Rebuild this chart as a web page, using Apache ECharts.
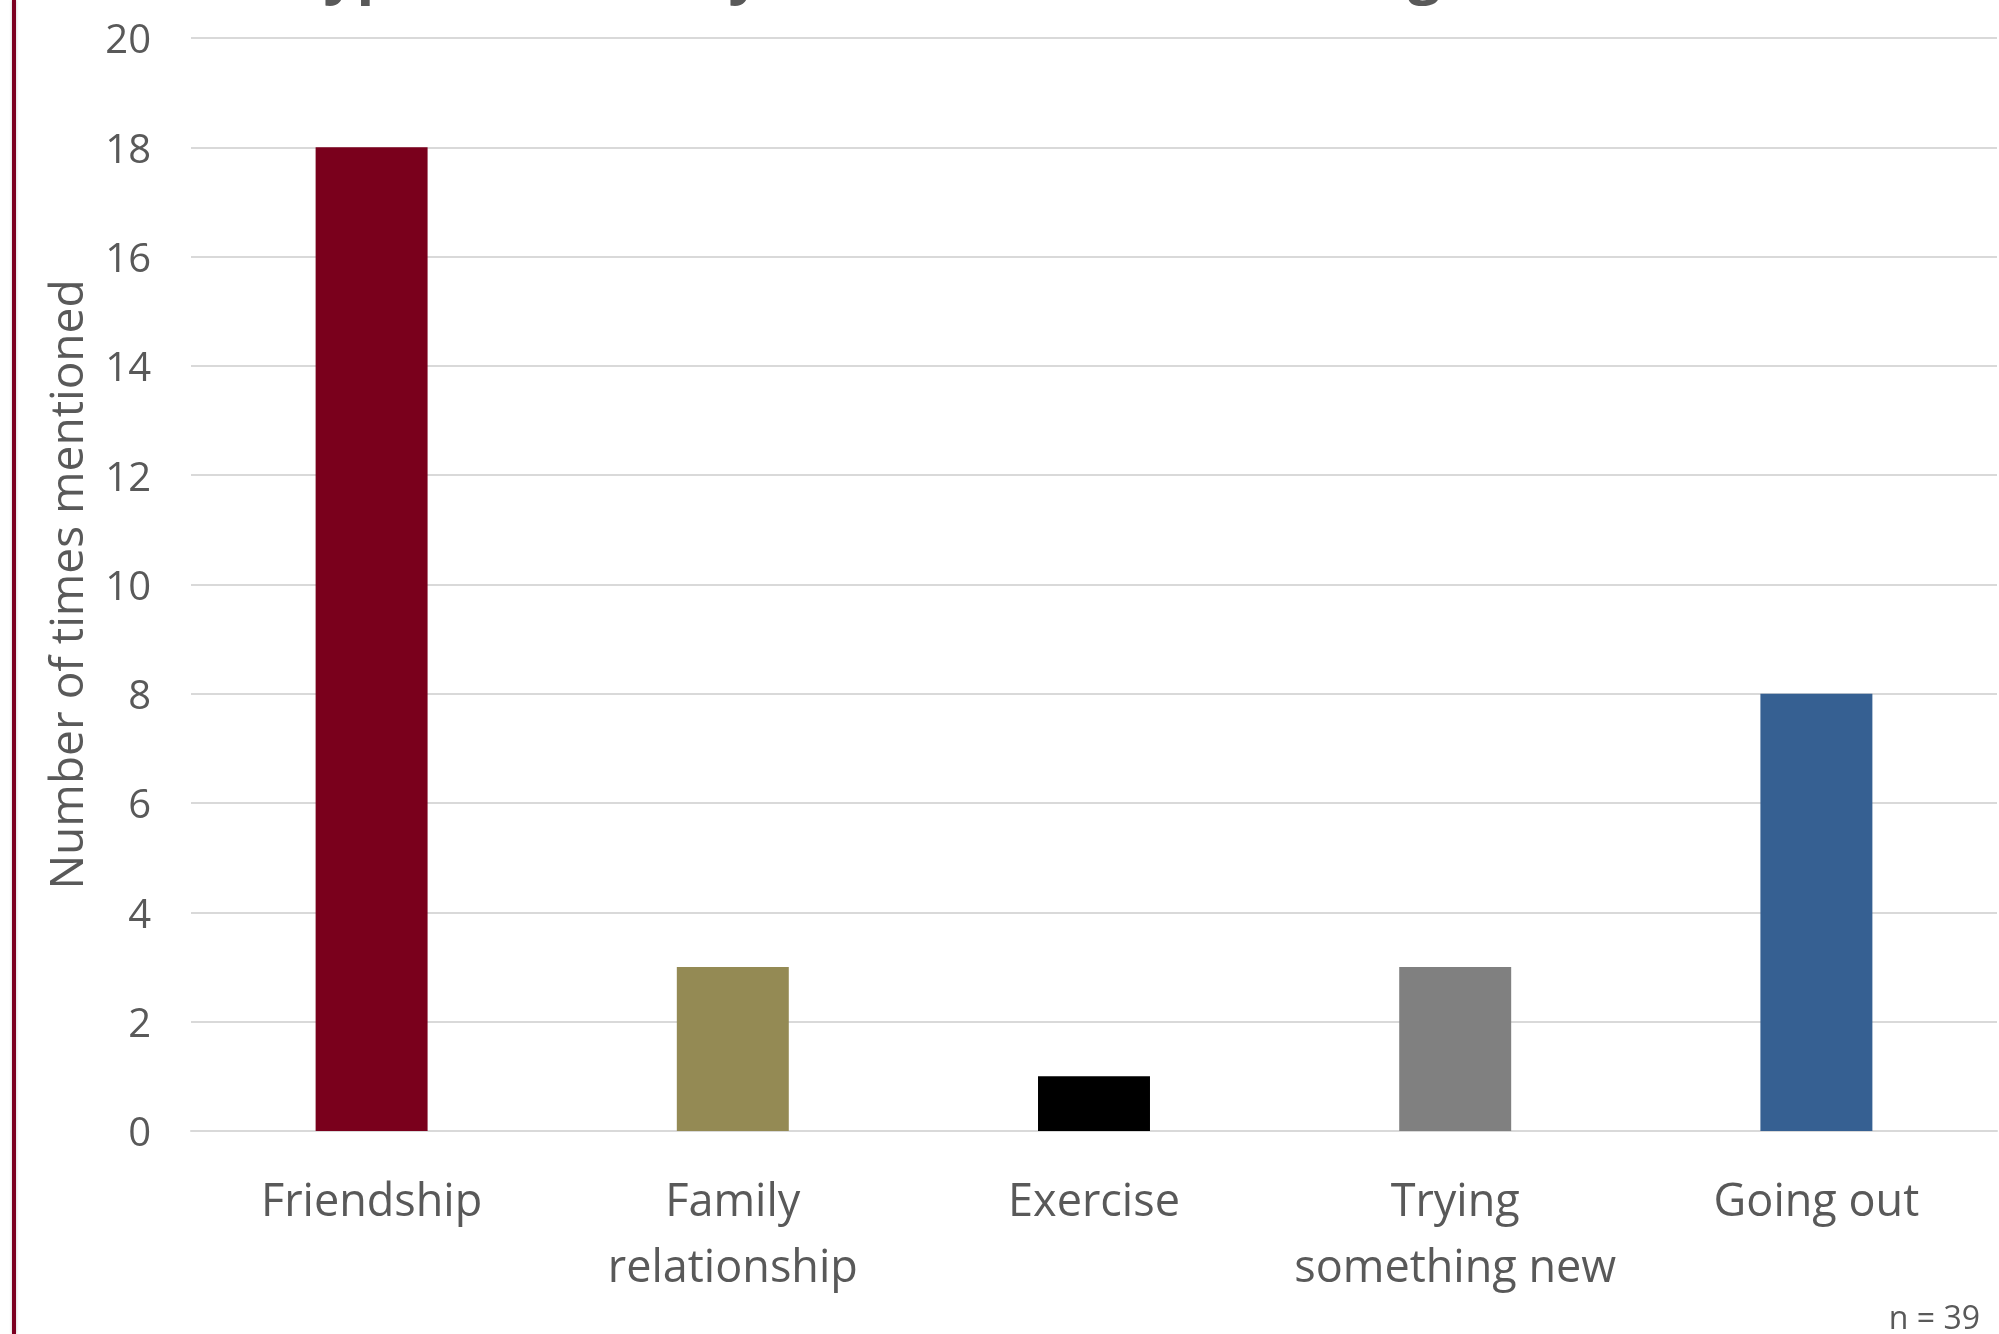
<!DOCTYPE html>
<html>
<head>
<meta charset="utf-8">
<title>Number of times mentioned</title>
<script src="https://cdn.jsdelivr.net/npm/echarts@6/dist/echarts.min.js"></script>
<style>
  html, body { margin: 0; padding: 0; background: #fff; }
  #chart { width: 1999px; height: 1334px; }
</style>
</head>
<body>
<div id="chart"></div>
<script>
const categories = ["Friendship", "Family\nrelationship", "Exercise", "Trying\nsomething new", "Going out"];
const values = [18, 3, 1, 3, 8];
const barColors = ["#7A001C", "#948A54", "#000000", "#808080", "#366092"];
const titleText = "Types of activity mentioned as meaningful";
const yName = "Number of times mentioned";
const note = "n = 39";

const textColor = "#595959";
const font = "'Open Sans', 'Noto Sans', sans-serif";

const chart = echarts.init(document.getElementById("chart"));

const option = {
  backgroundColor: "#fff",
  animation: false,
  grid: {
    left: 191,
    right: 2,
    top: 38,
    bottom: 203,
  },
  xAxis: {
    type: "category",
    data: categories,
    axisLine: { show: true, lineStyle: { color: "#D9D9D9", width: 2 } },
    axisTick: { show: false },
    axisLabel: {
      color: textColor,
      fontFamily: font,
      fontSize: 45,
      lineHeight: 66,
      margin: 39,
      verticalAlign: "top",
      interval: 0,
    },
  },
  yAxis: {
    type: "value",
    min: 0,
    max: 20,
    interval: 2,
    name: yName,
    nameLocation: "middle",
    nameRotate: 90,
    nameGap: 98,
    nameTextStyle: { color: textColor, fontFamily: font, fontSize: 46 },
    axisLine: { show: false },
    axisTick: { show: false },
    // nudge the digits down so they sit centred on the grid line
    axisLabel: { color: textColor, fontFamily: font, fontSize: 40, margin: 40, verticalAlign: "top", lineHeight: 8 },
    splitLine: { lineStyle: { color: "#D9D9D9", width: 2 } },
  },
  series: [
    {
      type: "bar",
      barWidth: "31%",
      data: values.map((v, i) => ({ value: v, itemStyle: { color: barColors[i] } })),
    },
  ],
  graphic: [
    {
      type: "rect",
      left: 12,
      top: 0,
      shape: { width: 4, height: 1334 },
      style: { fill: "#7B0020", shadowBlur: 3, shadowColor: "rgba(0,0,0,0.25)" },
    },
    {
      type: "text",
      x: 290,
      y: -25,
      style: {
        text: titleText,
        fill: textColor,
        font: "bold 58px " + font,
        verticalAlign: "middle",
      },
    },
    {
      type: "text",
      x: 1980,
      y: 1320,
      style: {
        text: note,
        fill: textColor,
        font: "32px " + font,
        align: "right",
        verticalAlign: "middle",
      },
    },
  ],
};

chart.setOption(option);
</script>
</body>
</html>
